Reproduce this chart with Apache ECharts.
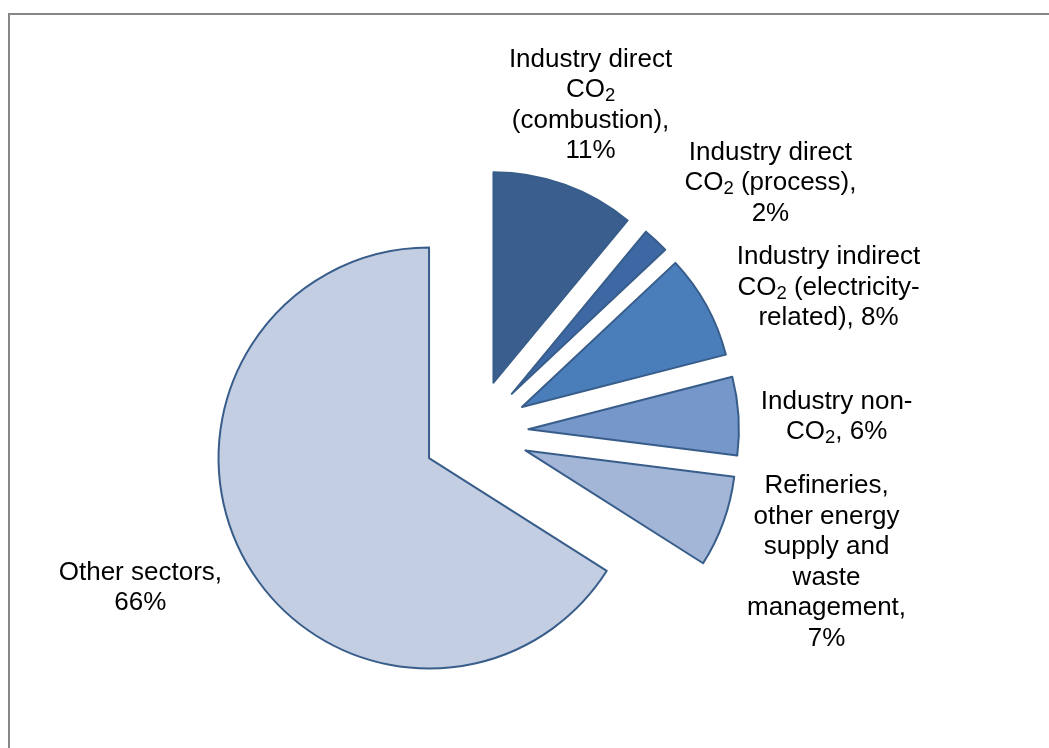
<!DOCTYPE html>
<html>
<head>
<meta charset="utf-8">
<script src="https://cdn.jsdelivr.net/npm/echarts@6.0.0/dist/echarts.min.js"></script>
<style>
  html, body { margin: 0; padding: 0; background: #ffffff; }
  #chart { width: 1049px; height: 748px; }
</style>
</head>
<body>
<div id="chart"></div>
<script>
// Sector shares of emissions (percent)
const categories = [
  'Industry direct CO2 (combustion)',
  'Industry direct CO2 (process)',
  'Industry indirect CO2 (electricity-related)',
  'Industry non-CO2',
  'Refineries, other energy supply and waste management',
  'Other sectors'
];
const shares = [11, 2, 8, 6, 7, 66];

// Wrapped label text; %P is replaced by the share, {s|2} is a subscript
const labelTexts = [
  'Industry direct\nCO{s|2}\n(combustion),\n%P',
  'Industry direct\nCO{s|2} (process),\n%P',
  'Industry indirect\nCO{s|2} (electricity-\nrelated), %P',
  'Industry non-\nCO{s|2}, %P',
  'Refineries,\nother energy\nsupply and\nwaste\nmanagement,\n%P',
  'Other sectors,\n%P'
];

const sliceColors = ['#3a5f8e', '#3d68a3', '#4a7ebb', '#7597c9', '#a3b6d8', '#c3cee3'];

// Pie geometry, fonts and label spacing
const pieCenter = [475.5, 432.5];
const pieRadius = 210.5;
const explode = 53;
const labelGap = [21, 55, 35, 22.5, 28, 35];
const labelNudge = [[-9, -2], [18, 16], [11, 21], [0, 4], [2, 0], [-2, -3]];
const fontFamily = '"Liberation Sans", Arial, sans-serif';
const mainSize = 26;
const subSize = 18.5;
const lineH = 30.5;

const total = shares.reduce((a, b) => a + b, 0);
function midAngle(i) {
  let start = 0;
  for (let k = 0; k < i; k++) start += shares[k];
  return (start + shares[i] / 2) / total * Math.PI * 2;
}

// Size of a wrapped label, counting subscript runs at their own size
const measureCtx = document.createElement('canvas').getContext('2d');
function labelBox(str) {
  const lines = str.split('\n');
  let w = 0;
  lines.forEach(line => {
    const parts = line.split(/\{s\|([^}]*)\}/);
    let lw = 0;
    parts.forEach((part, k) => {
      measureCtx.font = (k % 2 ? subSize : mainSize) + 'px ' + fontFamily;
      lw += measureCtx.measureText(part).width;
    });
    w = Math.max(w, lw);
  });
  return { w: w, h: lines.length * lineH };
}

// Data labels sit just outside each exploded slice, along its bisector
const labelGraphics = shares.map((v, i) => {
  const text = labelTexts[i].replace('%P', v + '%');
  const box = labelBox(text);
  const a = midAngle(i);
  const sx = Math.sin(a), sy = -Math.cos(a);
  const d = explode + pieRadius + labelGap[i];
  const px = pieCenter[0] + d * sx;
  const py = pieCenter[1] + d * sy;
  return {
    type: 'text',
    z: 10,
    x: px + sx * box.w / 2 + labelNudge[i][0],
    y: py + sy * box.h / 2 + labelNudge[i][1],
    style: {
      text: text,
      fill: '#000000',
      fontFamily: fontFamily,
      fontSize: mainSize,
      lineHeight: lineH,
      align: 'center',
      verticalAlign: 'middle',
      rich: {
        s: {
          fontFamily: fontFamily,
          fontSize: subSize,
          lineHeight: 16,
          verticalAlign: 'bottom',
          fill: '#000000'
        }
      }
    }
  };
});

const chart = echarts.init(document.getElementById('chart'), null, { renderer: 'canvas' });

chart.setOption({
  animation: false,
  backgroundColor: '#ffffff',
  graphic: [{
    type: 'rect',
    z: -10,
    shape: { x: 9, y: 14, width: 1100, height: 800 },
    style: { fill: 'none', stroke: '#878787', lineWidth: 2 }
  }].concat(labelGraphics),
  series: [{
    type: 'pie',
    center: pieCenter,
    radius: [0, pieRadius],
    startAngle: 90,
    clockwise: true,
    selectedMode: 'multiple',
    selectedOffset: explode,
    emphasis: { disabled: true },
    itemStyle: { borderColor: '#385d8a', borderWidth: 2 },
    label: { show: false },
    labelLine: { show: false },
    data: categories.map((name, i) => ({
      name: name,
      value: shares[i],
      selected: true,
      itemStyle: { color: sliceColors[i] }
    }))
  }]
});
</script>
</body>
</html>
